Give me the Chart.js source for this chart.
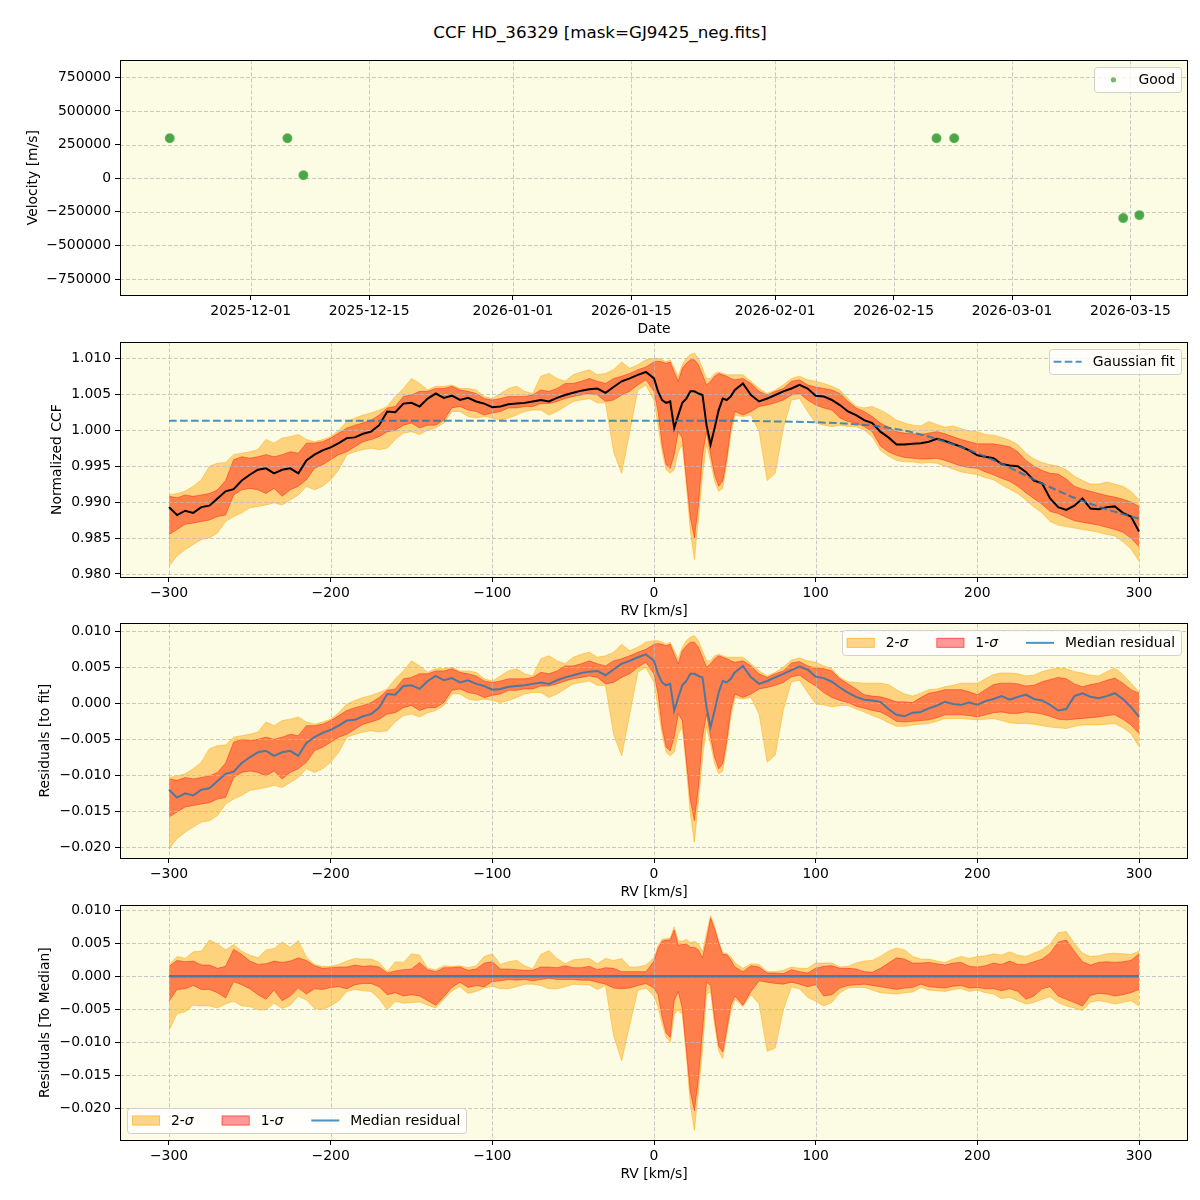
<!DOCTYPE html>
<html>
<head>
<meta charset="utf-8">
<script src="https://cdn.jsdelivr.net/npm/chart.js@4.4.0/dist/chart.umd.min.js"></script>
<style>
body { margin: 0; background: #ffffff; }
#wrap { position: relative; width: 1200px; height: 1200px; overflow: hidden; }
#title { position: absolute; top: 22px; left: 0; width: 1200px; text-align: center;
         font: 16.7px "DejaVu Sans"; line-height: 20px; color: #000; }
canvas { position: absolute; left: 0; }
</style>
</head>
<body>
<div id="wrap">
  <div id="title">CCF HD_36329 [mask=GJ9425_neg.fits]</div>
  <canvas id="velChart" width="1200" height="294" style="top:48px"></canvas>
  <canvas id="ccfChart" width="1200" height="294" style="top:330px"></canvas>
  <canvas id="resChart" width="1200" height="294" style="top:611px"></canvas>
  <canvas id="devChart" width="1200" height="294" style="top:893px"></canvas>
</div>
<script>
// ---- observations (top panel) ----
const obsDates = ['2025-11-21T10:20', '2025-12-05T08:10', '2025-12-07T05:30', '2026-02-20T01:40',
                  '2026-02-22T03:50', '2026-03-14T03:20', '2026-03-16T01:10'];
const obsVel = [297000, 297000, 22000, 297000, 297000, -297000, -275000];
const dateTicks = ['2025-12-01', '2025-12-15', '2026-01-01', '2026-01-15',
                   '2026-02-01', '2026-02-15', '2026-03-01', '2026-03-15'];
const velTicks = [-750000, -500000, -250000, 0, 250000, 500000, 750000];

// ---- RV grid shared by the three CCF panels ----
const rv = [-300,-295,-290,-285,-280,-275,-270,-265,-260,-255,
  -250,-245,-240,-235,-230,-225,-220,-215,-210,-205,
  -200,-195,-190,-185,-180,-175,-170,-165,-160,-155,
  -150,-145,-140,-135,-130,-125,-120,-115,-110,-105,
  -100,-95,-90,-85,-80,-75,-70,-65,-60,-55,
  -50,-45,-40,-35,-30,-25,-20,-15,-10,-5,
  0,2.5,5,7.5,10,12.5,15,17.5,20,22.5,
  25,27.5,30,32.5,35,37.5,40,42.5,45,47.5,
  50,55,60,65,70,75,80,85,90,95,
  100,105,110,115,120,125,130,135,140,145,
  150,155,160,165,170,175,180,185,190,195,
  200,205,210,215,220,225,230,235,240,245,
  250,255,260,265,270,275,280,285,290,295,
  300];
const rvTicks = [-300, -200, -100, 0, 100, 200, 300];

// ---- normalized CCF ----
const ccfMed = [0.9893,0.9882,0.9888,0.9885,0.9893,0.9895,0.9905,0.9915,0.9918,0.9930,
  0.9938,0.9945,0.9947,0.9940,0.9945,0.9947,0.9940,0.9958,0.9966,0.9972,
  0.9976,0.9982,0.9989,0.9990,0.9995,0.9998,1.0007,1.0026,1.0025,1.0037,
  1.0038,1.0033,1.0044,1.0051,1.0045,1.0048,1.0042,1.0045,1.0040,1.0037,
  1.0032,1.0033,1.0036,1.0037,1.0038,1.0040,1.0042,1.0040,1.0045,1.0049,
  1.0052,1.0055,1.0057,1.0058,1.0052,1.0060,1.0068,1.0072,1.0077,1.0081,
  1.0072,1.0054,1.0042,1.0038,1.0040,1.0003,1.0021,1.0038,1.0044,1.0054,
  1.0054,1.0051,1.0049,1.0007,0.9980,1.0003,1.0028,1.0044,1.0042,1.0047,
  1.0056,1.0065,1.0049,1.0040,1.0044,1.0049,1.0054,1.0058,1.0063,1.0058,
  1.0048,1.0047,1.0042,1.0035,1.0026,1.0021,1.0014,1.0010,0.9998,0.9990,
  0.9980,0.9980,0.9981,0.9982,0.9984,0.9988,0.9985,0.9981,0.9977,0.9972,
  0.9965,0.9963,0.9961,0.9953,0.9951,0.9950,0.9942,0.9930,0.9926,0.9905,
  0.9893,0.9889,0.9895,0.9905,0.9891,0.9890,0.9893,0.9894,0.9885,0.9880,
  0.9859];
const ccf2Hi = [0.9910,0.9912,0.9915,0.9922,0.9931,0.9950,0.9954,0.9955,0.9966,0.9968,
  0.9970,0.9973,0.9987,0.9982,0.9989,0.9991,0.9994,0.9987,0.9984,0.9987,
  0.9991,1.0000,1.0012,1.0017,1.0021,1.0024,1.0028,1.0033,1.0047,1.0058,
  1.0072,1.0065,1.0056,1.0061,1.0061,1.0063,1.0058,1.0058,1.0056,1.0047,
  1.0044,1.0051,1.0058,1.0061,1.0054,1.0051,1.0075,1.0079,1.0072,1.0068,
  1.0077,1.0081,1.0084,1.0077,1.0079,1.0084,1.0095,1.0086,1.0091,1.0098,
  1.0100,1.0100,1.0098,1.0095,1.0098,1.0086,1.0075,1.0091,1.0100,1.0105,
  1.0107,1.0100,1.0086,1.0072,1.0072,1.0079,1.0081,1.0079,1.0077,1.0077,
  1.0077,1.0077,1.0068,1.0058,1.0051,1.0056,1.0063,1.0072,1.0075,1.0070,
  1.0068,1.0065,1.0061,1.0056,1.0044,1.0033,1.0031,1.0033,1.0028,1.0022,
  1.0014,1.0010,1.0007,1.0006,1.0012,1.0008,1.0004,1.0006,1.0002,0.9999,
  0.9998,0.9994,0.9993,0.9990,0.9986,0.9980,0.9968,0.9960,0.9955,0.9952,
  0.9950,0.9945,0.9936,0.9930,0.9925,0.9925,0.9928,0.9925,0.9922,0.9915,
  0.9903];
const ccf1Hi = [0.9908,0.9906,0.9910,0.9908,0.9910,0.9912,0.9917,0.9930,0.9959,0.9963,
  0.9961,0.9963,0.9966,0.9963,0.9966,0.9970,0.9968,0.9982,0.9982,0.9984,
  0.9989,0.9996,1.0003,1.0007,1.0010,1.0014,1.0021,1.0031,1.0033,1.0047,
  1.0049,1.0054,1.0054,1.0058,1.0058,1.0061,1.0056,1.0054,1.0051,1.0044,
  1.0042,1.0044,1.0047,1.0047,1.0047,1.0049,1.0056,1.0054,1.0058,1.0065,
  1.0065,1.0068,1.0072,1.0068,1.0065,1.0072,1.0075,1.0079,1.0084,1.0088,
  1.0095,1.0096,1.0095,1.0093,1.0095,1.0081,1.0068,1.0086,1.0093,1.0098,
  1.0098,1.0091,1.0077,1.0063,1.0068,1.0075,1.0079,1.0077,1.0075,1.0072,
  1.0070,1.0072,1.0065,1.0054,1.0049,1.0054,1.0058,1.0068,1.0070,1.0063,
  1.0060,1.0058,1.0056,1.0051,1.0040,1.0031,1.0026,1.0019,1.0010,1.0004,
  0.9998,0.9996,0.9995,0.9994,0.9996,0.9998,0.9995,0.9991,0.9987,0.9984,
  0.9981,0.9981,0.9981,0.9979,0.9977,0.9970,0.9958,0.9950,0.9944,0.9940,
  0.9939,0.9932,0.9922,0.9918,0.9915,0.9912,0.9909,0.9907,0.9904,0.9900,
  0.9894];
const ccf1Lo = [0.9855,0.9862,0.9869,0.9871,0.9873,0.9875,0.9880,0.9882,0.9910,0.9917,
  0.9919,0.9917,0.9912,0.9919,0.9908,0.9917,0.9922,0.9931,0.9947,0.9952,
  0.9959,0.9966,0.9970,0.9977,0.9984,0.9987,0.9991,0.9998,1.0000,1.0007,
  1.0010,1.0003,1.0007,1.0007,1.0014,1.0031,1.0033,1.0028,1.0026,1.0021,
  1.0024,1.0026,1.0031,1.0031,1.0033,1.0033,1.0037,1.0037,1.0040,1.0044,
  1.0047,1.0049,1.0051,1.0049,1.0040,1.0042,1.0049,1.0054,1.0063,1.0070,
  1.0054,1.0026,0.9980,0.9952,0.9947,0.9966,0.9998,0.9989,0.9933,0.9878,
  0.9850,0.9896,0.9966,0.9998,0.9966,0.9938,0.9922,0.9929,0.9961,1.0003,
  1.0026,1.0021,1.0026,1.0033,1.0035,1.0038,1.0042,1.0049,1.0051,1.0042,
  1.0035,1.0031,1.0028,1.0017,1.0012,1.0010,1.0005,0.9998,0.9978,0.9970,
  0.9965,0.9962,0.9961,0.9960,0.9960,0.9961,0.9958,0.9954,0.9950,0.9948,
  0.9947,0.9942,0.9938,0.9933,0.9929,0.9922,0.9913,0.9905,0.9897,0.9887,
  0.9884,0.9879,0.9874,0.9872,0.9870,0.9868,0.9865,0.9862,0.9858,0.9850,
  0.9838];
const ccf2Lo = [0.9811,0.9825,0.9834,0.9841,0.9848,0.9850,0.9857,0.9873,0.9880,0.9885,
  0.9892,0.9894,0.9896,0.9899,0.9896,0.9903,0.9910,0.9922,0.9917,0.9922,
  0.9931,0.9945,0.9966,0.9970,0.9973,0.9975,0.9973,0.9975,0.9987,0.9996,
  0.9998,0.9994,1.0000,1.0003,1.0010,1.0026,1.0026,1.0019,1.0017,1.0019,
  1.0017,1.0014,1.0017,1.0021,1.0026,1.0028,1.0028,1.0021,1.0026,1.0033,
  1.0040,1.0042,1.0044,1.0038,1.0038,0.9970,0.9940,0.9998,1.0056,1.0063,
  1.0042,1.0007,0.9970,0.9945,0.9940,0.9945,0.9970,0.9980,0.9924,0.9859,
  0.9820,0.9878,0.9938,0.9980,0.9956,0.9929,0.9915,0.9919,0.9954,0.9994,
  1.0021,1.0019,1.0021,0.9998,0.9930,0.9940,1.0003,1.0042,1.0044,1.0026,
  1.0010,1.0007,1.0005,1.0007,1.0005,1.0005,1.0000,0.9991,0.9972,0.9964,
  0.9958,0.9956,0.9956,0.9954,0.9955,0.9954,0.9950,0.9946,0.9942,0.9940,
  0.9938,0.9934,0.9931,0.9924,0.9918,0.9912,0.9903,0.9893,0.9885,0.9873,
  0.9868,0.9866,0.9864,0.9862,0.9860,0.9858,0.9855,0.9853,0.9845,0.9835,
  0.9818];
const fitRv = [-300, -200, -100, 0, 50, 80, 100, 120, 140, 160, 180, 200, 220, 240, 260, 280, 300];
const fitVals = [1.0013, 1.0013, 1.0013, 1.0013, 1.0013, 1.0012, 1.0011, 1.0009, 1.0005, 0.9997,
                 0.9984, 0.9968, 0.9948, 0.9926, 0.9906, 0.9890, 0.9877];
const ccfTicks = [0.980, 0.985, 0.990, 0.995, 1.000, 1.005, 1.010];

// ---- residuals to the fit ----
const resMed = [-0.0120,-0.0131,-0.0125,-0.0128,-0.0120,-0.0118,-0.0108,-0.0098,-0.0095,-0.0083,
  -0.0075,-0.0068,-0.0066,-0.0073,-0.0068,-0.0066,-0.0073,-0.0055,-0.0047,-0.0041,
  -0.0037,-0.0031,-0.0024,-0.0023,-0.0018,-0.0015,-0.0006,0.0013,0.0012,0.0024,
  0.0025,0.0020,0.0031,0.0038,0.0032,0.0035,0.0029,0.0032,0.0027,0.0024,
  0.0019,0.0020,0.0023,0.0024,0.0025,0.0027,0.0029,0.0027,0.0032,0.0036,
  0.0039,0.0042,0.0044,0.0045,0.0039,0.0047,0.0055,0.0059,0.0064,0.0068,
  0.0059,0.0041,0.0029,0.0025,0.0027,-0.0010,0.0008,0.0025,0.0031,0.0041,
  0.0041,0.0038,0.0036,-0.0006,-0.0033,-0.0010,0.0015,0.0031,0.0029,0.0034,
  0.0043,0.0052,0.0036,0.0027,0.0031,0.0036,0.0041,0.0046,0.0051,0.0047,
  0.0037,0.0035,0.0030,0.0022,0.0015,0.0009,0.0005,0.0004,0.0002,-0.0008,
  -0.0016,-0.0018,-0.0013,-0.0012,-0.0007,-0.0003,0.0002,-0.0001,-0.0002,0.0001,
  -0.0002,0.0003,0.0006,0.0010,0.0005,0.0009,0.0012,0.0006,0.0004,-0.0002,
  -0.0010,-0.0008,0.0010,0.0014,0.0009,0.0007,0.0010,0.0014,0.0006,-0.0005,
  -0.0019];
const res2Hi = [-0.0103,-0.0101,-0.0098,-0.0091,-0.0082,-0.0063,-0.0059,-0.0058,-0.0047,-0.0045,
  -0.0043,-0.0040,-0.0026,-0.0031,-0.0024,-0.0022,-0.0019,-0.0026,-0.0029,-0.0026,
  -0.0022,-0.0013,-0.0001,0.0004,0.0008,0.0011,0.0015,0.0020,0.0034,0.0045,
  0.0059,0.0052,0.0043,0.0048,0.0048,0.0050,0.0045,0.0045,0.0043,0.0034,
  0.0031,0.0038,0.0045,0.0048,0.0041,0.0038,0.0062,0.0066,0.0059,0.0055,
  0.0064,0.0068,0.0071,0.0064,0.0066,0.0071,0.0082,0.0073,0.0078,0.0085,
  0.0087,0.0087,0.0085,0.0082,0.0085,0.0073,0.0062,0.0078,0.0087,0.0092,
  0.0094,0.0087,0.0073,0.0059,0.0059,0.0066,0.0068,0.0066,0.0064,0.0064,
  0.0064,0.0064,0.0055,0.0045,0.0038,0.0043,0.0050,0.0060,0.0063,0.0059,
  0.0057,0.0052,0.0048,0.0036,0.0030,0.0029,0.0028,0.0028,0.0028,0.0026,
  0.0019,0.0013,0.0010,0.0014,0.0019,0.0020,0.0023,0.0025,0.0028,0.0028,
  0.0028,0.0034,0.0040,0.0042,0.0042,0.0041,0.0038,0.0039,0.0044,0.0047,
  0.0049,0.0048,0.0044,0.0042,0.0039,0.0038,0.0044,0.0049,0.0040,0.0028,
  0.0016];
const res1Hi = [-0.0105,-0.0107,-0.0103,-0.0105,-0.0103,-0.0101,-0.0096,-0.0083,-0.0054,-0.0050,
  -0.0052,-0.0050,-0.0047,-0.0050,-0.0047,-0.0043,-0.0045,-0.0031,-0.0031,-0.0029,
  -0.0024,-0.0017,-0.0010,-0.0006,-0.0003,0.0001,0.0008,0.0018,0.0020,0.0034,
  0.0036,0.0041,0.0041,0.0045,0.0045,0.0048,0.0043,0.0041,0.0038,0.0031,
  0.0029,0.0031,0.0034,0.0034,0.0034,0.0036,0.0043,0.0041,0.0045,0.0052,
  0.0052,0.0055,0.0059,0.0055,0.0052,0.0059,0.0062,0.0066,0.0071,0.0075,
  0.0082,0.0083,0.0082,0.0080,0.0082,0.0068,0.0055,0.0073,0.0080,0.0085,
  0.0085,0.0078,0.0064,0.0050,0.0055,0.0062,0.0066,0.0064,0.0062,0.0059,
  0.0057,0.0059,0.0052,0.0041,0.0036,0.0041,0.0045,0.0056,0.0058,0.0052,
  0.0049,0.0048,0.0045,0.0034,0.0027,0.0020,0.0012,0.0010,0.0009,0.0006,
  0.0002,0.0002,0.0001,0.0008,0.0014,0.0016,0.0019,0.0019,0.0019,0.0016,
  0.0012,0.0019,0.0026,0.0028,0.0028,0.0027,0.0024,0.0025,0.0030,0.0033,
  0.0036,0.0034,0.0027,0.0023,0.0026,0.0028,0.0032,0.0035,0.0028,0.0019,
  0.0014];
const res1Lo = [-0.0158,-0.0151,-0.0144,-0.0142,-0.0140,-0.0138,-0.0133,-0.0131,-0.0103,-0.0096,
  -0.0094,-0.0096,-0.0101,-0.0094,-0.0105,-0.0096,-0.0091,-0.0082,-0.0066,-0.0061,
  -0.0054,-0.0047,-0.0043,-0.0036,-0.0029,-0.0026,-0.0022,-0.0015,-0.0013,-0.0006,
  -0.0003,-0.0010,-0.0006,-0.0006,0.0001,0.0018,0.0020,0.0015,0.0013,0.0008,
  0.0011,0.0013,0.0018,0.0018,0.0020,0.0020,0.0024,0.0024,0.0027,0.0031,
  0.0034,0.0036,0.0038,0.0036,0.0027,0.0029,0.0036,0.0041,0.0050,0.0057,
  0.0041,0.0013,-0.0033,-0.0061,-0.0066,-0.0047,-0.0015,-0.0024,-0.0080,-0.0135,
  -0.0163,-0.0117,-0.0047,-0.0015,-0.0047,-0.0075,-0.0091,-0.0084,-0.0052,-0.0010,
  0.0013,0.0008,0.0013,0.0020,0.0022,0.0025,0.0029,0.0037,0.0039,0.0031,
  0.0024,0.0015,0.0008,0.0004,0.0001,-0.0004,-0.0007,-0.0010,-0.0012,-0.0018,
  -0.0025,-0.0026,-0.0025,-0.0024,-0.0023,-0.0020,-0.0016,-0.0016,-0.0016,-0.0017,
  -0.0019,-0.0016,-0.0013,-0.0012,-0.0014,-0.0014,-0.0012,-0.0013,-0.0015,-0.0018,
  -0.0022,-0.0023,-0.0022,-0.0021,-0.0020,-0.0019,-0.0017,-0.0016,-0.0022,-0.0030,
  -0.0042];
const res2Lo = [-0.0202,-0.0188,-0.0179,-0.0172,-0.0165,-0.0163,-0.0156,-0.0140,-0.0133,-0.0128,
  -0.0121,-0.0119,-0.0117,-0.0114,-0.0117,-0.0110,-0.0103,-0.0091,-0.0096,-0.0091,
  -0.0082,-0.0068,-0.0047,-0.0043,-0.0040,-0.0038,-0.0040,-0.0038,-0.0026,-0.0017,
  -0.0015,-0.0019,-0.0013,-0.0010,-0.0003,0.0013,0.0013,0.0006,0.0004,0.0006,
  0.0004,0.0001,0.0004,0.0008,0.0013,0.0015,0.0015,0.0008,0.0013,0.0020,
  0.0027,0.0029,0.0031,0.0025,0.0025,-0.0043,-0.0073,-0.0015,0.0043,0.0050,
  0.0029,-0.0006,-0.0043,-0.0068,-0.0073,-0.0068,-0.0043,-0.0033,-0.0089,-0.0154,
  -0.0193,-0.0135,-0.0075,-0.0033,-0.0057,-0.0084,-0.0098,-0.0094,-0.0059,-0.0019,
  0.0008,0.0006,0.0008,-0.0015,-0.0082,-0.0072,-0.0009,0.0030,0.0032,0.0015,
  -0.0001,-0.0002,-0.0005,-0.0003,-0.0003,-0.0008,-0.0012,-0.0017,-0.0021,-0.0027,
  -0.0032,-0.0032,-0.0030,-0.0029,-0.0028,-0.0025,-0.0021,-0.0021,-0.0021,-0.0022,
  -0.0023,-0.0022,-0.0021,-0.0024,-0.0027,-0.0028,-0.0028,-0.0029,-0.0031,-0.0033,
  -0.0034,-0.0035,-0.0032,-0.0030,-0.0030,-0.0030,-0.0029,-0.0028,-0.0034,-0.0042,
  -0.0060];

// ---- residuals to the median ----
const devRv = [-300, 300];
const devMed = [0, 0];
const dev2Hi = [0.0017,0.0030,0.0027,0.0037,0.0038,0.0055,0.0049,0.0040,0.0048,0.0038,
  0.0032,0.0028,0.0040,0.0042,0.0052,0.0044,0.0054,0.0029,0.0018,0.0015,
  0.0015,0.0018,0.0023,0.0027,0.0026,0.0026,0.0021,0.0007,0.0022,0.0021,
  0.0034,0.0032,0.0012,0.0010,0.0016,0.0015,0.0016,0.0013,0.0016,0.0030,
  0.0034,0.0018,0.0022,0.0024,0.0016,0.0011,0.0033,0.0039,0.0027,0.0019,
  0.0025,0.0026,0.0027,0.0019,0.0027,0.0024,0.0027,0.0014,0.0014,0.0017,
  0.0028,0.0046,0.0056,0.0057,0.0058,0.0075,0.0054,0.0053,0.0056,0.0051,
  0.0053,0.0049,0.0037,0.0065,0.0092,0.0076,0.0053,0.0035,0.0035,0.0030,
  0.0021,0.0012,0.0019,0.0018,0.0007,0.0007,0.0009,0.0014,0.0012,0.0012,
  0.0020,0.0020,0.0020,0.0014,0.0015,0.0020,0.0023,0.0024,0.0030,0.0038,
  0.0043,0.0040,0.0030,0.0026,0.0026,0.0023,0.0021,0.0026,0.0030,0.0027,
  0.0030,0.0031,0.0034,0.0032,0.0037,0.0032,0.0030,0.0035,0.0040,0.0049,
  0.0066,0.0068,0.0050,0.0035,0.0030,0.0031,0.0034,0.0035,0.0034,0.0033,
  0.0038];
const dev1Hi = [0.0015,0.0024,0.0022,0.0023,0.0017,0.0017,0.0012,0.0015,0.0041,0.0033,
  0.0023,0.0018,0.0019,0.0023,0.0021,0.0023,0.0028,0.0024,0.0016,0.0012,
  0.0013,0.0014,0.0014,0.0017,0.0015,0.0016,0.0014,0.0005,0.0008,0.0010,
  0.0011,0.0021,0.0010,0.0007,0.0013,0.0013,0.0014,0.0009,0.0011,0.0020,
  0.0022,0.0011,0.0011,0.0010,0.0009,0.0009,0.0014,0.0014,0.0013,0.0016,
  0.0013,0.0013,0.0015,0.0010,0.0013,0.0012,0.0007,0.0007,0.0007,0.0007,
  0.0023,0.0042,0.0053,0.0055,0.0055,0.0070,0.0047,0.0048,0.0049,0.0044,
  0.0044,0.0040,0.0028,0.0056,0.0088,0.0072,0.0051,0.0033,0.0033,0.0025,
  0.0014,0.0007,0.0016,0.0014,0.0005,0.0005,0.0004,0.0010,0.0007,0.0005,
  0.0012,0.0015,0.0016,0.0012,0.0012,0.0011,0.0007,0.0006,0.0012,0.0020,
  0.0028,0.0026,0.0020,0.0020,0.0021,0.0019,0.0017,0.0020,0.0021,0.0015,
  0.0014,0.0016,0.0020,0.0018,0.0023,0.0018,0.0018,0.0022,0.0026,0.0035,
  0.0052,0.0055,0.0038,0.0022,0.0017,0.0021,0.0022,0.0021,0.0022,0.0024,
  0.0034];
const dev1Lo = [-0.0038,-0.0020,-0.0019,-0.0014,-0.0020,-0.0020,-0.0025,-0.0033,-0.0008,-0.0013,
  -0.0019,-0.0028,-0.0035,-0.0021,-0.0037,-0.0030,-0.0018,-0.0027,-0.0019,-0.0020,
  -0.0017,-0.0016,-0.0019,-0.0013,-0.0011,-0.0011,-0.0016,-0.0028,-0.0025,-0.0030,
  -0.0028,-0.0030,-0.0037,-0.0044,-0.0031,-0.0017,-0.0009,-0.0017,-0.0014,-0.0016,
  -0.0008,-0.0007,-0.0005,-0.0006,-0.0005,-0.0007,-0.0005,-0.0003,-0.0005,-0.0005,
  -0.0005,-0.0006,-0.0006,-0.0009,-0.0012,-0.0018,-0.0019,-0.0018,-0.0014,-0.0011,
  -0.0018,-0.0028,-0.0062,-0.0086,-0.0093,-0.0037,-0.0023,-0.0049,-0.0111,-0.0176,
  -0.0204,-0.0155,-0.0083,-0.0009,-0.0014,-0.0065,-0.0106,-0.0115,-0.0081,-0.0044,
  -0.0030,-0.0044,-0.0023,-0.0007,-0.0009,-0.0011,-0.0012,-0.0009,-0.0012,-0.0016,
  -0.0013,-0.0030,-0.0028,-0.0018,-0.0014,-0.0013,-0.0012,-0.0014,-0.0016,-0.0018,
  -0.0020,-0.0018,-0.0017,-0.0012,-0.0016,-0.0017,-0.0018,-0.0015,-0.0014,-0.0018,
  -0.0017,-0.0019,-0.0019,-0.0022,-0.0019,-0.0023,-0.0035,-0.0030,-0.0019,-0.0016,
  -0.0030,-0.0035,-0.0040,-0.0045,-0.0029,-0.0026,-0.0027,-0.0030,-0.0028,-0.0025,
  -0.0020];
const dev2Lo = [-0.0082,-0.0057,-0.0054,-0.0044,-0.0045,-0.0045,-0.0048,-0.0042,-0.0038,-0.0045,
  -0.0046,-0.0051,-0.0051,-0.0041,-0.0049,-0.0044,-0.0030,-0.0036,-0.0049,-0.0050,
  -0.0045,-0.0037,-0.0023,-0.0020,-0.0022,-0.0023,-0.0034,-0.0051,-0.0038,-0.0041,
  -0.0040,-0.0039,-0.0044,-0.0048,-0.0035,-0.0022,-0.0016,-0.0026,-0.0023,-0.0018,
  -0.0015,-0.0019,-0.0019,-0.0016,-0.0012,-0.0012,-0.0014,-0.0019,-0.0019,-0.0016,
  -0.0012,-0.0013,-0.0013,-0.0020,-0.0014,-0.0090,-0.0128,-0.0074,-0.0021,-0.0018,
  -0.0030,-0.0047,-0.0072,-0.0093,-0.0100,-0.0058,-0.0051,-0.0058,-0.0120,-0.0195,
  -0.0234,-0.0173,-0.0111,-0.0027,-0.0024,-0.0074,-0.0113,-0.0125,-0.0088,-0.0053,
  -0.0035,-0.0046,-0.0028,-0.0042,-0.0114,-0.0109,-0.0051,-0.0016,-0.0019,-0.0032,
  -0.0038,-0.0045,-0.0040,-0.0025,-0.0018,-0.0017,-0.0017,-0.0021,-0.0025,-0.0026,
  -0.0027,-0.0025,-0.0024,-0.0017,-0.0021,-0.0022,-0.0023,-0.0020,-0.0019,-0.0023,
  -0.0021,-0.0025,-0.0027,-0.0034,-0.0032,-0.0037,-0.0042,-0.0040,-0.0035,-0.0031,
  -0.0040,-0.0045,-0.0048,-0.0052,-0.0039,-0.0037,-0.0039,-0.0042,-0.0040,-0.0037,
  -0.0045];
const resTicks = [-0.020, -0.015, -0.010, -0.005, 0.000, 0.005, 0.010];

// ---- styling ----
const FS = 13.9;
const PLOT_BG = '#fcfbe3';
const GRID = 'rgba(185,185,185,0.75)';
const C2 = 'rgba(255,165,0,0.45)';
const C1 = 'rgba(255,0,0,0.4)';
const BLUE = 'rgba(31,119,180,0.8)';
Chart.defaults.font.family = '"DejaVu Sans"';
Chart.defaults.font.size = FS;
Chart.defaults.color = '#000';

function toMs(s) { return Date.parse(s.length === 10 ? s + 'T00:00:00' : s); }
function fmt(v, d) {
  const s = Math.abs(v).toFixed(d);
  return (v < -1e-12 ? '\u2212' : '') + s;
}
function pts(xs, ys) { return xs.map((x, i) => ({ x: x, y: ys[i] })); }

// dashed grid, drawn over the filled bands but under the lines (like matplotlib)
function drawGrid(chart) {
  const ctx = chart.ctx, a = chart.chartArea, sx = chart.scales.x, sy = chart.scales.y;
  ctx.save();
  ctx.beginPath();
  ctx.rect(a.left, a.top, a.right - a.left, a.bottom - a.top);
  ctx.clip();
  ctx.strokeStyle = GRID;
  ctx.lineWidth = 1;
  ctx.setLineDash([4, 2]);
  sx.ticks.forEach(t => {
    const p = Math.round(sx.getPixelForValue(t.value)) + 0.5;
    ctx.beginPath(); ctx.moveTo(p, a.top); ctx.lineTo(p, a.bottom); ctx.stroke();
  });
  sy.ticks.forEach(t => {
    const p = Math.round(sy.getPixelForValue(t.value)) + 0.5;
    ctx.beginPath(); ctx.moveTo(a.left, p); ctx.lineTo(a.right, p); ctx.stroke();
  });
  ctx.restore();
}

const framePlugin = {
  id: 'frame',
  beforeDraw(chart) {
    const ctx = chart.ctx, a = chart.chartArea;
    ctx.save();
    ctx.fillStyle = PLOT_BG;
    ctx.fillRect(a.left, a.top, a.right - a.left, a.bottom - a.top);
    ctx.restore();
  },
  beforeDatasetDraw(chart, args) {
    if (chart.data.datasets[args.index].gridHere) drawGrid(chart);
  },
  afterDatasetsDraw(chart) {
    const ctx = chart.ctx, a = chart.chartArea;
    ctx.save();
    ctx.strokeStyle = '#000';
    ctx.lineWidth = 1;
    ctx.strokeRect(Math.round(a.left) + 0.5, Math.round(a.top) + 0.5,
                   Math.round(a.right - a.left) - 1, Math.round(a.bottom - a.top));
    ctx.restore();
  }
};

function labelWidth(ctx, label) {
  let w = 0;
  label.split(/(σ)/).filter(Boolean).forEach(part => {
    ctx.font = (part === 'σ' ? 'italic ' : '') + FS + 'px "DejaVu Sans"';
    w += ctx.measureText(part).width;
  });
  return w;
}
function drawLabel(ctx, label, x, y) {
  label.split(/(σ)/).filter(Boolean).forEach(part => {
    ctx.font = (part === 'σ' ? 'italic ' : '') + FS + 'px "DejaVu Sans"';
    ctx.fillText(part, x, y);
    x += ctx.measureText(part).width;
  });
}

const legendPlugin = {
  id: 'mplLegend',
  afterDraw(chart, args, opts) {
    if (!opts || !opts.items) return;
    const ctx = chart.ctx, a = chart.chartArea;
    const hl = 28, tp = 11, cs = 28, pl = 5, pr = 6, h = 25;
    ctx.save();
    const widths = opts.items.map(it => labelWidth(ctx, it.label));
    let w = pl + pr;
    widths.forEach((tw, i) => { w += hl + tp + tw + (i < widths.length - 1 ? cs : 0); });
    let bx, by;
    if (opts.corner === 'll') { bx = a.left + 7; by = a.bottom - 7 - h; }
    else { bx = a.right - 7 - w; by = a.top + 7; }
    ctx.beginPath();
    ctx.roundRect(Math.round(bx) + 0.5, Math.round(by) + 0.5, Math.round(w), h, 3);
    ctx.fillStyle = 'rgba(255,255,255,0.8)';
    ctx.fill();
    ctx.strokeStyle = 'rgba(204,204,204,0.9)';
    ctx.lineWidth = 1;
    ctx.stroke();
    const cy = by + h / 2;
    let x = bx + pl;
    opts.items.forEach((it, i) => {
      ctx.save();
      if (it.kind === 'patch') {
        ctx.fillStyle = it.color;
        ctx.fillRect(x, cy - 5, hl, 10);
        ctx.strokeStyle = it.color;
        ctx.strokeRect(x + 0.5, cy - 4.5, hl - 1, 9);
      } else if (it.kind === 'dot') {
        ctx.beginPath();
        ctx.arc(x + hl / 2, cy, 2.6, 0, Math.PI * 2);
        ctx.fillStyle = it.color;
        ctx.fill();
      } else {
        ctx.strokeStyle = it.color;
        ctx.lineWidth = it.width || 2;
        ctx.setLineDash(it.dash || []);
        ctx.beginPath(); ctx.moveTo(x, cy); ctx.lineTo(x + hl, cy); ctx.stroke();
      }
      ctx.restore();
      x += hl + tp;
      ctx.fillStyle = '#000';
      ctx.textBaseline = 'middle';
      ctx.textAlign = 'left';
      drawLabel(ctx, it.label, x, cy + 1);
      x += widths[i] + cs;
    });
    ctx.restore();
  }
};

function xAxis(min, max, tickVals, cb, title) {
  return {
    type: 'linear', min: min, max: max,
    afterBuildTicks: s => { s.ticks = tickVals.map(v => ({ value: v })); },
    afterFit: s => { s.height = 47; },
    ticks: { autoSkip: false, maxRotation: 0, padding: 3, color: '#000', callback: cb },
    grid: { drawOnChartArea: false, drawTicks: true, tickLength: 5, tickColor: '#000', tickWidth: 1 },
    border: { display: false },
    title: { display: true, text: title, color: '#000', padding: { top: 4, bottom: 4 } }
  };
}
function yAxis(min, max, tickVals, cb, title, width) {
  return {
    type: 'linear', min: min, max: max,
    afterBuildTicks: s => { s.ticks = tickVals.map(v => ({ value: v })); },
    afterFit: s => { s.width = width; },
    ticks: { autoSkip: false, padding: 4, color: '#000', callback: cb },
    grid: { drawOnChartArea: false, drawTicks: true, tickLength: 5, tickColor: '#000', tickWidth: 1 },
    border: { display: false },
    title: { display: true, text: title, color: '#000', padding: { top: 4, bottom: 4 } }
  };
}
function baseOptions(padLeft) {
  return {
    responsive: false, animation: false, events: [],
    layout: { padding: { left: padLeft, right: 12, top: 12, bottom: 0 } },
    elements: { point: { radius: 0 }, line: { tension: 0 } }
  };
}
function bandSets(lo2, hi2, lo1, hi1) {
  return [
    { data: pts(rv, lo2), borderColor: C2, backgroundColor: C2, borderWidth: 1, fill: false, order: 3 },
    { data: pts(rv, hi2), borderColor: C2, backgroundColor: C2, borderWidth: 1, fill: '-1', order: 3 },
    { data: pts(rv, lo1), borderColor: C1, backgroundColor: C1, borderWidth: 1, fill: false, order: 2 },
    { data: pts(rv, hi1), borderColor: C1, backgroundColor: C1, borderWidth: 1, fill: '-1', order: 2 }
  ];
}
const bandLegend = [
  { kind: 'patch', color: C2, label: '2-σ' },
  { kind: 'patch', color: C1, label: '1-σ' },
  { kind: 'line', color: BLUE, width: 2, label: 'Median residual' }
];

// ---- panel 1: velocities ----
(function () {
  const opts = baseOptions(21);
  opts.scales = {
    x: xAxis(toMs('2025-11-15T13:10'), toMs('2026-03-21T19:10'), dateTicks.map(toMs),
             (v, i) => dateTicks[i], 'Date'),
    y: yAxis(-868800, 876000, velTicks, v => fmt(v, 0), 'Velocity [m/s]', 99)
  };
  opts.plugins = {
    legend: { display: false }, tooltip: { enabled: false },
    mplLegend: { corner: 'ur', items: [{ kind: 'dot', color: 'rgba(44,160,44,0.7)', label: 'Good' }] }
  };
  new Chart(document.getElementById('velChart'), {
    type: 'scatter',
    data: { datasets: [{
      data: pts(obsDates.map(toMs), obsVel), gridHere: true,
      pointRadius: 4.2, pointBackgroundColor: 'rgba(44,150,44,0.85)',
      pointBorderColor: 'rgba(70,170,70,0.8)', pointBorderWidth: 1.6
    }] },
    options: opts,
    plugins: [framePlugin, legendPlugin]
  });
})();

// ---- panel 2: normalized CCF ----
(function () {
  const opts = baseOptions(45);
  opts.scales = {
    x: xAxis(-330.3, 330.3, rvTicks, v => fmt(v, 0), 'RV [km/s]'),
    y: yAxis(0.97958, 1.01222, ccfTicks, v => v.toFixed(3), 'Normalized CCF', 75)
  };
  opts.plugins = {
    legend: { display: false }, tooltip: { enabled: false },
    mplLegend: { corner: 'ur', items: [{ kind: 'line', color: BLUE, width: 2, dash: [7.7, 3.3], label: 'Gaussian fit' }] }
  };
  const sets = bandSets(ccf2Lo, ccf2Hi, ccf1Lo, ccf1Hi);
  sets.push({ data: pts(rv, ccfMed), borderColor: '#000', borderWidth: 2, fill: false, order: 1, gridHere: true });
  sets.push({ data: pts(fitRv, fitVals), borderColor: BLUE, borderWidth: 2, borderDash: [7.7, 3.3],
              cubicInterpolationMode: 'monotone', fill: false, order: 0 });
  new Chart(document.getElementById('ccfChart'), {
    type: 'line', data: { datasets: sets }, options: opts,
    plugins: [framePlugin, legendPlugin]
  });
})();

// ---- panel 3: residuals to fit ----
(function () {
  const opts = baseOptions(33);
  opts.scales = {
    x: xAxis(-330.3, 330.3, rvTicks, v => fmt(v, 0), 'RV [km/s]'),
    y: yAxis(-0.02149, 0.01111, resTicks, v => fmt(v, 3), 'Residuals [to fit]', 87)
  };
  opts.plugins = {
    legend: { display: false }, tooltip: { enabled: false },
    mplLegend: { corner: 'ur', items: bandLegend }
  };
  const sets = bandSets(res2Lo, res2Hi, res1Lo, res1Hi);
  sets.push({ data: pts(rv, resMed), borderColor: BLUE, borderWidth: 2, fill: false, order: 1, gridHere: true });
  new Chart(document.getElementById('resChart'), {
    type: 'line', data: { datasets: sets }, options: opts,
    plugins: [framePlugin, legendPlugin]
  });
})();

// ---- panel 4: residuals to median ----
(function () {
  const opts = baseOptions(33);
  opts.scales = {
    x: xAxis(-330.3, 330.3, rvTicks, v => fmt(v, 0), 'RV [km/s]'),
    y: yAxis(-0.02485, 0.01076, resTicks, v => fmt(v, 3), 'Residuals [To Median]', 87)
  };
  opts.plugins = {
    legend: { display: false }, tooltip: { enabled: false },
    mplLegend: { corner: 'll', items: bandLegend }
  };
  const sets = bandSets(dev2Lo, dev2Hi, dev1Lo, dev1Hi);
  sets.push({ data: pts(devRv, devMed), borderColor: BLUE, borderWidth: 2.5, fill: false, order: 1, gridHere: true });
  new Chart(document.getElementById('devChart'), {
    type: 'line', data: { datasets: sets }, options: opts,
    plugins: [framePlugin, legendPlugin]
  });
})();
</script>
</body>
</html>
